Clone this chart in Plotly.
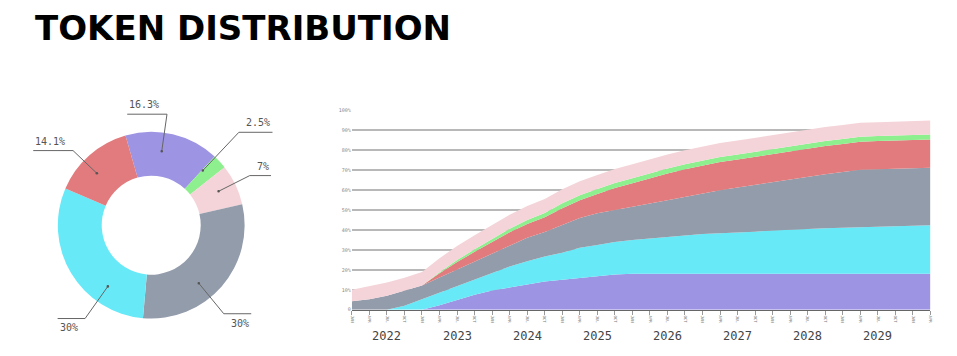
import math
import plotly.graph_objects as go

# ---------------- data ----------------
slice_labels = ["Team", "Advisors", "Seed", "Ecosystem", "Community", "Treasury"]
slice_values = [16.3, 2.5, 7, 30, 30, 14.1]
slice_text = ["16.3%", "2.5%", "7%", "30%", "30%", "14.1%"]

years = ["2022", "2023", "2024", "2025", "2026", "2027", "2028", "2029"]
quarter_labels = ["JAN", "APR", "JUL", "OCT"]

# unlocked share (% of total supply) per quarter, 34 quarters, bottom to top of the stack
purple = [0, 0, 0, 0, 0, 2.2, 5.0, 7.5, 9.6, 11.3, 12.7, 14.2, 15.1, 16.0, 17.0, 17.6,
          18.0, 18.0, 18.0, 18.0, 18.0, 18.0, 18.0, 18.0, 18.0, 18.0, 18.0, 18.0, 18.0,
          18.0, 18.0, 18.0, 18.0, 18.0]
cyan = [0, 0, 0, 2.0, 5.3, 6.5, 7.1, 7.8, 8.9, 10.4, 11.6, 12.5, 13.5, 15.0, 15.4, 16.3,
        16.9, 17.7, 18.6, 19.4, 19.9, 20.3, 20.6, 21.1, 21.7, 22.2, 22.5, 22.8, 23.1,
        23.5, 23.6, 23.9, 24.1, 24.3]
gray = [4.3, 5.3, 7.0, 7.4, 6.8, 7.4, 8.0, 8.8, 9.6, 10.4, 11.8, 12.3, 13.9, 15.0, 16.0,
        16.0, 16.5, 17.5, 18.2, 19.1, 20.2, 21.6, 22.6, 23.5, 24.2, 25.1, 26.1, 27.1,
        27.9, 28.6, 28.8, 28.8, 29.0, 28.9]
red = [0, 0, 0, 0, 0, 2.2, 3.8, 4.9, 5.9, 6.7, 6.9, 7.3, 8.4, 8.9, 9.6, 11.1, 12.0, 12.8,
       13.5, 13.9, 14.1, 14.1, 14.1, 14.1, 14.1, 14.1, 14.1, 14.1, 14.1, 14.1, 14.1, 14.1,
       14.1, 14.1]
green = [0, 0, 0, 0, 0, 0.5, 1.0, 1.3, 1.6, 1.8, 2.0, 2.2, 2.5, 2.5, 2.5, 2.5, 2.5, 2.5,
         2.5, 2.5, 2.5, 2.5, 2.5, 2.5, 2.5, 2.5, 2.5, 2.5, 2.5, 2.5, 2.5, 2.5, 2.5, 2.5]
pink = [5.7, 6.4, 6.6, 6.6, 6.8, 7.0, 7.0, 7.0, 7.0, 7.0, 7.0, 7.0, 7.0, 7.0, 7.0, 7.0,
        7.0, 7.0, 7.0, 7.0, 7.0, 7.0, 7.0, 7.0, 7.0, 7.0, 7.0, 7.0, 7.0, 7.0, 7.0, 7.0,
        7.0, 7.0]

# ---------------- style ----------------
W, H = 957, 356
C_PURPLE, C_GREEN, C_PINK = "#9d94e3", "#8eef8e", "#f4d4d9"
C_GRAY, C_CYAN, C_RED = "#939cab", "#67e9f8", "#e17b7d"
slice_colors = [C_PURPLE, C_GREEN, C_PINK, C_GRAY, C_CYAN, C_RED]
MONO = "DejaVu Sans Mono"

# donut geometry (pixels)
CX, CY, R = 150, 226, 95
HOLE = 0.53
label_angle = [8, 43, 63, 141, 215, 314]           # leader-line angles (deg, clockwise from 12h)
label_rad = [1.2, 1.36, 1.17, 1.22, 1.22, 1.15]     # elbow radius (x R)
label_side = [-1, 1, 1, 1, -1, -1]                  # underline direction
DOT_R = 0.8 * R

# area plot box (pixels)
PX0, PX1, PY_TOP, PY_BOT = 351.7, 933.3, 109, 312


def px(x):
    return x / W


def py(y):
    return 1 - y / H


fig = go.Figure()

# ---------- donut ----------
fig.add_trace(go.Pie(
    labels=slice_labels, values=slice_values, sort=False, direction="clockwise",
    rotation=-16, hole=HOLE, marker=dict(colors=slice_colors, line=dict(width=0)),
    textinfo="none", hoverinfo="skip", showlegend=False,
    domain=dict(x=[px(CX - R), px(CX + R)], y=[py(CY + R), py(CY - R)]),
))

shapes = []
annotations = []
for txt, ang, lr, side in zip(slice_text, label_angle, label_rad, label_side):
    a = math.radians(ang)
    dx, dy = CX + DOT_R * math.sin(a), CY - DOT_R * math.cos(a)
    ex, ey = CX + lr * R * math.sin(a), CY - lr * R * math.cos(a)
    ln = 6.2 * len(txt) + 9
    endx = ex + side * ln
    line_style = dict(color="#666666", width=1)
    shapes.append(dict(type="line", xref="paper", yref="paper",
                       x0=px(dx), y0=py(dy), x1=px(ex), y1=py(ey), line=line_style))
    shapes.append(dict(type="line", xref="paper", yref="paper",
                       x0=px(ex), y0=py(ey), x1=px(endx), y1=py(ey), line=line_style))
    shapes.append(dict(type="circle", xref="paper", yref="paper",
                       x0=px(dx - 1.3), x1=px(dx + 1.3), y0=py(dy + 1.3), y1=py(dy - 1.3),
                       fillcolor="#555555", line=dict(width=0)))
    upper = ey < CY
    annotations.append(dict(
        text=txt, xref="paper", yref="paper", showarrow=False,
        x=px(endx), y=py(ey - 2) if upper else py(ey + 2),
        xanchor="left" if side < 0 else "right",
        yanchor="bottom" if upper else "top",
        font=dict(family=MONO, size=10, color="#555555"),
    ))

# ---------- stacked area ----------
n = len(pink)
xs = list(range(n))
for name, vals, col in [("Team", purple, C_PURPLE), ("Community", cyan, C_CYAN),
                        ("Ecosystem", gray, C_GRAY), ("Treasury", red, C_RED),
                        ("Advisors", green, C_GREEN), ("Seed", pink, C_PINK)]:
    fig.add_trace(go.Scatter(
        x=xs, y=vals, name=name, mode="lines", stackgroup="one",
        line=dict(width=0, color=col), fillcolor=col, hoverinfo="skip", showlegend=False,
        xaxis="x", yaxis="y",
    ))

tick_text = [quarter_labels[i % 4] for i in xs]
for i, yr in enumerate(years):
    annotations.append(dict(
        text=yr, xref="x", yref="paper", x=2 + 4 * i, y=py(339), showarrow=False,
        xanchor="center", yanchor="middle",
        font=dict(family=MONO, size=12, color="#444444"),
    ))

# title
annotations.append(dict(
    text="<b>TOKEN DISTRIBUTION</b>", xref="paper", yref="paper", x=px(31), y=py(3),
    xanchor="left", yanchor="top", showarrow=False,
    font=dict(family="DejaVu Sans", size=34, color="#000000"),
))

fig.update_layout(
    width=W, height=H, margin=dict(l=0, r=0, t=0, b=0),
    paper_bgcolor="white", plot_bgcolor="white",
    xaxis=dict(domain=[px(PX0), px(PX1)], range=[0, n - 1], tickvals=xs, ticktext=tick_text,
               tickangle=90, tickfont=dict(family=MONO, size=4, color="#777777"),
               ticks="outside", ticklen=4, tickcolor="#999999", showgrid=False,
               showline=True, linecolor="#666666", linewidth=1, zeroline=False),
    yaxis=dict(domain=[py(PY_BOT), py(PY_TOP)], range=[0, 100],
               tickvals=list(range(0, 101, 10)),
               ticktext=["0"] + [f"{v}%" for v in range(10, 101, 10)],
               tickfont=dict(family=MONO, size=5, color="#888888"),
               showgrid=True, gridcolor="#b8b8b8", gridwidth=1.5, zeroline=False,
               showline=False, ticks=""),
    shapes=shapes, annotations=annotations,
    hovermode=False,
)

fig.write_html("out.html", config={"displayModeBar": False},
               post_script="document.body.style.margin='0';")
